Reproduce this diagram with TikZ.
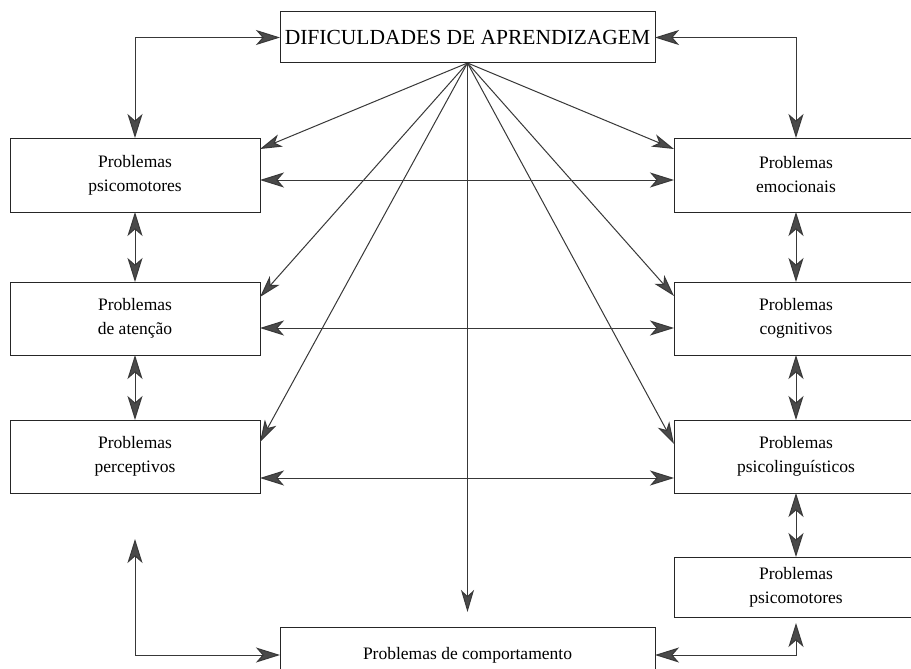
\documentclass[tikz,border=0pt]{standalone}
\usepackage{fontspec}
\setmainfont{Liberation Serif}
\usetikzlibrary{arrows.meta}
\definecolor{linegray}{HTML}{383838}
\definecolor{tipgray}{HTML}{4A4A4A}
\tikzset{
  box/.style={draw=black!85, line width=1pt, rectangle, inner sep=0pt, outer sep=0pt, align=center, font=\fontsize{17.5}{24}\selectfont},
  dbl/.style={draw=linegray, line width=1pt, {Stealth[length=24pt, width=15pt, inset=6.5pt, fill=tipgray]}-{Stealth[length=24pt, width=15pt, inset=6.5pt, fill=tipgray]}},
  single/.style={draw=linegray, line width=1pt, -{Stealth[length=22pt, width=13pt, inset=6pt, fill=tipgray]}},
}
\begin{document}
\begin{tikzpicture}[x=1pt, y=-1pt]
\useasboundingbox (0,0) rectangle (911,669);
\clip (0,0) rectangle (911,669);
\fill[white] (0,0) rectangle (911,669);

% nodes
\node[box, minimum width=375pt, minimum height=51pt, font=\fontsize{21.5}{24}\selectfont] (top) at (467.5,37.5) {DIFICULDADES DE APRENDIZAGEM};

\node[box, minimum width=250pt, minimum height=74pt] (L1) at (135,175) {Problemas\\psicomotores};
\node[box, minimum width=250pt, minimum height=73pt] (L2) at (135,318.5) {Problemas\\de atenção};
\node[box, minimum width=250pt, minimum height=73pt] (L3) at (135,456.5) {Problemas\\perceptivos};

\node[box, minimum width=244pt, minimum height=74pt] (R1) at (796,175) {Problemas\\emocionais};
\node[box, minimum width=244pt, minimum height=73pt] (R2) at (796,318.5) {Problemas\\cognitivos};
\node[box, minimum width=244pt, minimum height=73pt] (R3) at (796,456.5) {Problemas\\psicolinguísticos};
\node[box, minimum width=244pt, minimum height=60pt] (R4) at (796,587) {Problemas\\psicomotores};

\node[box, minimum width=375pt, minimum height=56pt] (comp) at (467.5,655) {Problemas de comportamento};

\coordinate (fan) at (top.south);
\coordinate (downend) at (467.5,612);
\coordinate (upend) at (135,539);

% top connectors
\draw[dbl] (L1.north) |- (top.west);
\draw[dbl] (R1.north) |- (top.east);

% vertical double arrows
\draw[dbl] (L1.south) -- (L2.north);
\draw[dbl] (L2.south) -- (L3.north);
\draw[dbl] (R1.south) -- (R2.north);
\draw[dbl] (R2.south) -- (R3.north);
\draw[dbl] (R3.south) -- (R4.north);

% horizontal double arrows
\draw[dbl] ([yshift=-5pt]L1.east) -- ([yshift=-5pt]R1.west);
\draw[dbl] ([yshift=-9.5pt]L2.east) -- ([yshift=-9.5pt]R2.west);
\draw[dbl] ([yshift=-21.5pt]L3.east) -- ([yshift=-21.5pt]R3.west);

% fan
\draw[single] (fan) -- ([yshift=-11pt]L1.north east);
\draw[single] (fan) -- ([yshift=-15pt]L2.north east);
\draw[single] (fan) -- ([yshift=-22pt]L3.north east);
\draw[single] (fan) -- ([yshift=-11pt]R1.north west);
\draw[single] (fan) -- ([yshift=-14pt]R2.north west);
\draw[single] (fan) -- ([yshift=-24pt]R3.north west);
\draw[single] (fan) -- (downend);

% bottom connectors
\draw[dbl] (upend) |- (comp.west);
\draw[dbl] (comp.east) -| ([yshift=-6pt]R4.south);
\end{tikzpicture}
\end{document}
